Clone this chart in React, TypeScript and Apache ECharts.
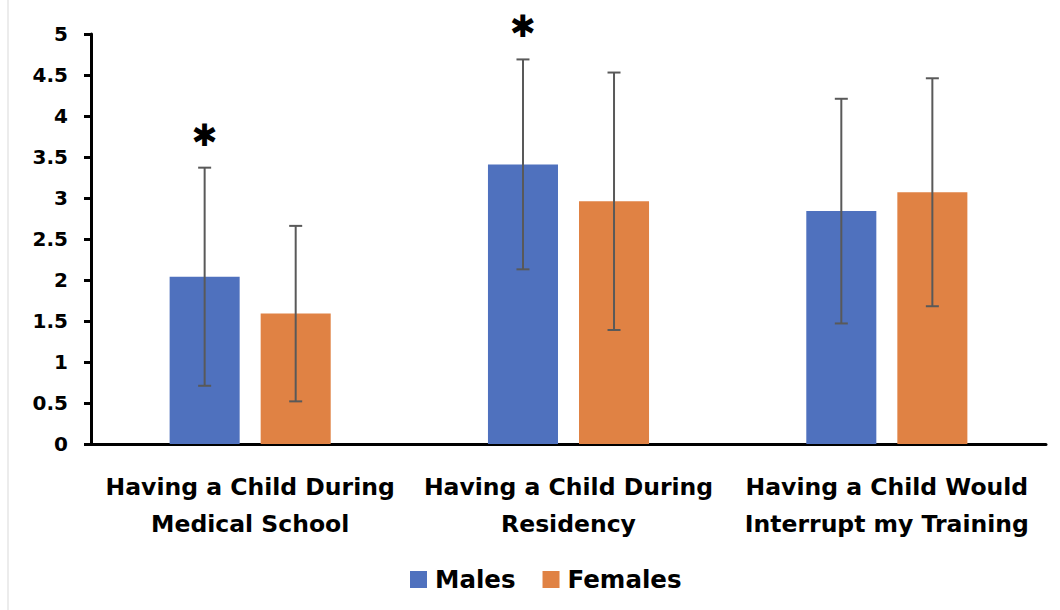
import React, { useEffect, useRef } from "react";
import * as echarts from "echarts";

const categories = [
  "Having a Child During\nMedical School",
  "Having a Child During\nResidency",
  "Having a Child Would\nInterrupt my Training",
];
const malesMean = [2.04, 3.41, 2.84];
const malesSD = [1.33, 1.28, 1.37];
const femalesMean = [1.59, 2.96, 3.07];
const femalesSD = [1.07, 1.57, 1.39];
const malesSig = [1, 1, 0];
const femalesSig = [0, 0, 0];
const seriesNames = ["Males", "Females"];

const FONT = "DejaVu Sans";
const BAR_FRAC = 0.22;
const GAP_FRAC = 0.3;

function errorSeries(name: string, means: number[], sds: number[], sig: number[], side: number) {
  const data = means.map((m, i) => [i, m, sds[i], sig[i]]);
  const offsetFrac = side * (BAR_FRAC + BAR_FRAC * GAP_FRAC) / 2;
  return {
    type: "custom",
    name: name + " SD",
    z: 5,
    silent: true,
    encode: { x: 0, y: 1 },
    data,
    renderItem: (params: any, api: any) => {
      const idx = api.value(0);
      const mean = api.value(1);
      const sd = api.value(2);
      const s = api.value(3);
      const band = api.size([1, 0])[0];
      const c = api.coord([idx, mean]);
      const x = c[0] + offsetFrac * band;
      const top = api.coord([idx, mean + sd])[1];
      const bot = api.coord([idx, mean - sd])[1];
      const half = 6.5;
      const st = { stroke: "#595959", lineWidth: 2 };
      const children: any[] = [
        { type: "line", shape: { x1: x, y1: top, x2: x, y2: bot }, style: st },
        { type: "line", shape: { x1: x - half, y1: top, x2: x + half, y2: top }, style: st },
        { type: "line", shape: { x1: x - half, y1: bot, x2: x + half, y2: bot }, style: st },
      ];
      if (s) {
        children.push({
          type: "text",
          x,
          y: top - 33,
          style: {
            text: "✱",
            align: "center",
            verticalAlign: "middle",
            fontSize: 31,
            fontFamily: FONT,
            fontWeight: "bold",
            fill: "#000",
          },
        });
      }
      return { type: "group", children };
    },
  };
}

export default function App() {
  const ref = useRef<HTMLDivElement>(null);
  useEffect(() => {
    if (!ref.current) return;
    const chart = echarts.init(ref.current, null, { renderer: "svg" });
    chart.setOption({
      animation: false,
      backgroundColor: "#fff",
      textStyle: { fontFamily: FONT },
      grid: { left: 91, right: 14, top: 34, bottom: 166, containLabel: false },
      legend: {
        data: seriesNames,
        top: 562,
        left: 405,
        icon: "rect",
        itemWidth: 17,
        itemHeight: 17,
        itemGap: 27,
        textStyle: {
          fontFamily: FONT,
          fontWeight: "bold",
          fontSize: 24.5,
          color: "#000",
          padding: [0, 0, 0, 3],
        },
      },
      graphic: [
        { type: "line", shape: { x1: 8, y1: 0, x2: 8, y2: 610 }, style: { stroke: "#d9d9d9", lineWidth: 1 } },
      ],
      xAxis: {
        type: "category",
        data: categories,
        axisLine: { lineStyle: { color: "#000", width: 3 } },
        axisTick: { show: false },
        axisLabel: {
          interval: 0,
          margin: 24,
          fontFamily: FONT,
          fontWeight: "bold",
          fontSize: 23.5,
          lineHeight: 37,
          color: "#000",
        },
      },
      yAxis: {
        type: "value",
        min: 0,
        max: 5,
        interval: 0.5,
        splitLine: { show: false },
        axisLine: { show: true, lineStyle: { color: "#000", width: 3 } },
        axisTick: { show: true, length: 7, lineStyle: { color: "#000", width: 3 } },
        axisLabel: {
          margin: 23,
          fontFamily: FONT,
          fontWeight: "bold",
          fontSize: 20,
          color: "#000",
        },
      },
      series: [
        {
          name: seriesNames[0],
          type: "bar",
          data: malesMean,
          barWidth: BAR_FRAC * 100 + "%",
          barGap: GAP_FRAC * 100 + "%",
          itemStyle: { color: "#4F71BE" },
        },
        {
          name: seriesNames[1],
          type: "bar",
          data: femalesMean,
          barWidth: BAR_FRAC * 100 + "%",
          barGap: GAP_FRAC * 100 + "%",
          itemStyle: { color: "#E08244" },
        },
        errorSeries(seriesNames[0], malesMean, malesSD, malesSig, -1),
        errorSeries(seriesNames[1], femalesMean, femalesSD, femalesSig, 1),
      ],
    });
    return () => chart.dispose();
  }, []);
  return (
    <div
      ref={ref}
      style={{ position: "fixed", left: 0, top: 0, width: 1060, height: 610 }}
    />
  );
}
